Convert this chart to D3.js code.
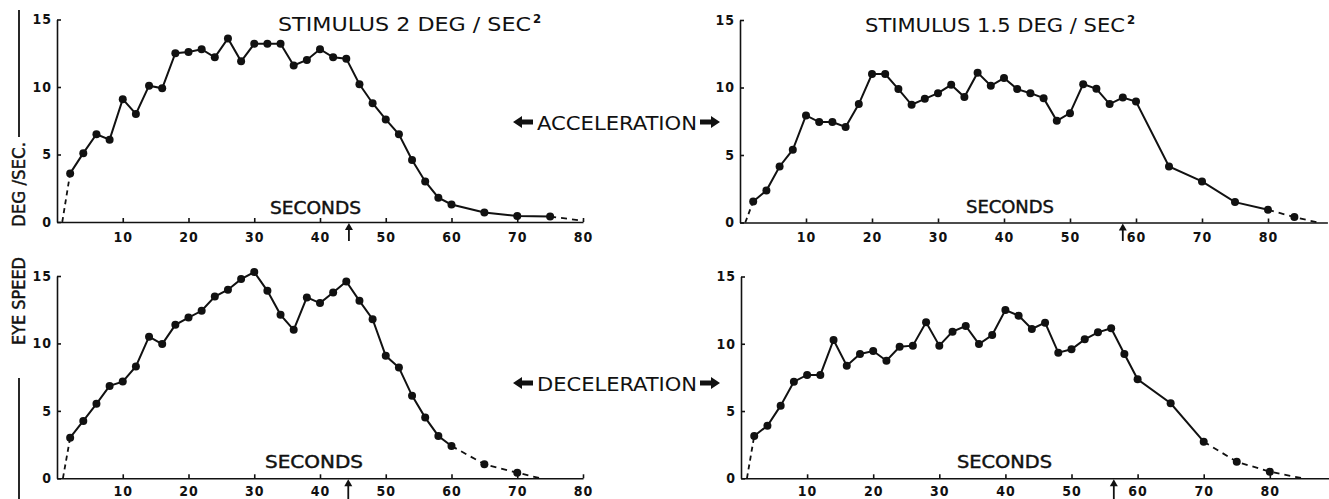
<!DOCTYPE html>
<html>
<head>
<meta charset="utf-8">
<script src="https://cdn.jsdelivr.net/npm/d3@7"></script>
<style>
  body { margin: 0; background: #fff; }
  text { font-family: "DejaVu Sans Condensed", "Liberation Sans Narrow", "DejaVu Sans", sans-serif; fill: #111; }
</style>
</head>
<body>
<div id="chart"></div>
<script>
// eye speed (deg/sec), one point every 2 s then every 5 s
let accel2Sec = [2,4,6,8,10,12,14,16,18,20,22,24,26,28,30,32,34,36,38,40,42,44,46,48,50,52,54,56,58,60,65,70,75];
let accel2Speed = [3.6,5.1,6.5,6.1,9.1,8.0,10.1,9.9,12.5,12.6,12.8,12.2,13.6,11.9,13.2,13.2,13.2,11.6,12.0,12.8,12.2,12.1,10.2,8.8,7.6,6.5,4.6,3.0,1.8,1.3,0.7,0.45,0.4];

let accel15Sec = [2,4,6,8,10,12,14,16,18,20,22,24,26,28,30,32,34,36,38,40,42,44,46,48,50,52,54,56,58,60,65,70,75,80,84];
let accel15Speed = [1.56,2.37,4.15,5.39,7.93,7.44,7.44,7.07,8.77,11.0,11.0,9.88,8.72,9.16,9.58,10.2,9.29,11.1,10.13,10.7,9.88,9.58,9.21,7.53,8.1,10.25,9.9,8.77,9.26,8.96,4.15,3.04,1.51,0.94,0.4];

let decel2Sec = [2,4,6,8,10,12,14,16,18,20,22,24,26,28,30,32,34,36,38,40,42,44,46,48,50,52,54,56,58,60,65,70];
let decel2Speed = [3.01,4.25,5.52,6.85,7.17,8.29,10.5,9.95,11.38,11.92,12.42,13.48,13.98,14.77,15.29,13.9,12.12,11.01,13.41,12.99,13.78,14.6,13.16,11.8,9.08,8.21,6.13,4.5,3.14,2.4,1.04,0.42];

let decel15Sec = [2,4,6,8,10,12,14,16,18,20,22,24,26,28,30,32,34,36,38,40,42,44,46,48,50,52,54,56,58,60,65,70,75,80];
let decel15Speed = [3.15,3.91,5.4,7.18,7.68,7.68,10.28,8.37,9.24,9.46,8.74,9.78,9.86,11.6,9.86,10.9,11.32,9.98,10.65,12.51,12.09,11.1,11.57,9.34,9.59,10.33,10.85,11.15,9.24,7.36,5.58,2.72,1.23,0.49];

// dashed extrapolation to the axis at each end, last second of solid line, stimulus end (arrow)
let leadIn = [[0.8, 0], [0.8, 0], [0.9, 0], [0.9, 0]];
let tailOut = [[80, 0.1], [87.5, 0], [73.5, 0], [85, 0]];
let solidUntil = [75, 80, 60, 70];
let stimulusEnd = [44.4, 58, 44.3, 56.4];

let xTicks = [10, 20, 30, 40, 50, 60, 70, 80];
let yTicks = [0, 5, 10, 15];

let titles = ["STIMULUS  2  DEG / SEC", "STIMULUS  1.5  DEG / SEC"];

let svg = d3.select("#chart")
    .append("svg")
    .attr("width", 1329)
    .attr("height", 499);

let panels = [
    {sec: accel2Sec, speed: accel2Speed, xMax: 80, x0: 57, x1: 583, y0: 222, y1: 19.5, bottom: 241},
    {sec: accel15Sec, speed: accel15Speed, xMax: 89, x0: 740, x1: 1327.4, y0: 222.5, y1: 20, bottom: 241},
    {sec: decel2Sec, speed: decel2Speed, xMax: 80, x0: 57, x1: 583, y0: 478.3, y1: 276, bottom: 499},
    {sec: decel15Sec, speed: decel15Speed, xMax: 89, x0: 741, x1: 1329.3, y0: 478.3, y1: 276.5, bottom: 499}
];

panels.forEach(function(p, i) {
    let x = d3.scaleLinear().domain([0, p.xMax]).range([p.x0, p.x1]);
    let y = d3.scaleLinear().domain([0, 15]).range([p.y0, p.y1]);
    let g = svg.append("g");

    let xAxis = g.append("g")
        .attr("transform", "translate(0," + p.y0 + ")")
        .call(d3.axisBottom(x).tickValues(xTicks).tickSize(-4).tickSizeOuter(0).tickPadding(i < 2 ? 10 : 8));
    let yAxis = g.append("g")
        .attr("transform", "translate(" + p.x0 + ",0)")
        .call(d3.axisLeft(y).tickValues(yTicks).tickSize(-4).tickSizeOuter(0).tickPadding(5));
    [xAxis, yAxis].forEach(function(a) {
        a.select(".domain").attr("stroke", "#111").attr("stroke-width", 1.6);
        a.selectAll(".tick line").attr("stroke", "#111").attr("stroke-width", 1.6);
        a.selectAll(".tick text")
            .attr("fill", "#111")
            .style("font-size", "14px")
            .style("font-weight", "bold")
            .style("letter-spacing", "1px")
            .style("font-family", "\"DejaVu Sans Condensed\", \"DejaVu Sans\", sans-serif");
    });

    let pts = p.sec.map((s, k) => [s, p.speed[k]]);
    let solid = pts.filter(d => d[0] <= solidUntil[i]);
    let tail = [solid[solid.length - 1]].concat(pts.filter(d => d[0] > solidUntil[i]), [tailOut[i]]);
    let line = d3.line().x(d => x(d[0])).y(d => y(d[1]));

    g.append("path").datum([leadIn[i], pts[0]])
        .attr("fill", "none").attr("stroke", "#111").attr("stroke-width", 1.8)
        .attr("stroke-dasharray", "5,4").attr("d", line);
    g.append("path").datum(solid)
        .attr("fill", "none").attr("stroke", "#111").attr("stroke-width", 2)
        .attr("d", line);
    g.append("path").datum(tail)
        .attr("fill", "none").attr("stroke", "#111").attr("stroke-width", 1.8)
        .attr("stroke-dasharray", "6,5").attr("d", line);

    g.append("g")
        .selectAll("circle")
        .data(pts)
        .join("circle")
        .attr("cx", d => x(d[0]))
        .attr("cy", d => y(d[1]))
        .attr("r", 4)
        .attr("fill", "#111");

    // stimulus-off arrow under the axis
    let ax = x(stimulusEnd[i]);
    g.append("line")
        .attr("x1", ax).attr("x2", ax)
        .attr("y1", p.y0 + 4).attr("y2", p.bottom)
        .attr("stroke", "#111").attr("stroke-width", 1.8);
    g.append("path")
        .attr("d", "M" + ax + "," + (p.y0 + 1) + " l-4,7 l8,0 z")
        .attr("fill", "#111");
});

// panel texts
let secondsLabels = [[270, 214, 91], [966, 213, 88], [265, 468, 98], [957, 468, 95]];
secondsLabels.forEach(function(s) {
    svg.append("text")
        .attr("x", s[0]).attr("y", s[1])
        .attr("textLength", s[2]).attr("lengthAdjust", "spacingAndGlyphs")
        .style("font-size", "17px")
        .style("stroke", "#111").style("stroke-width", 0.4)
        .text("SECONDS");
});

let titlePos = [[278, 31, 253, 533], [865, 32, 260, 1127]];
titles.forEach(function(t, i) {
    svg.append("text")
        .attr("x", titlePos[i][0]).attr("y", titlePos[i][1])
        .attr("textLength", titlePos[i][2]).attr("lengthAdjust", "spacingAndGlyphs")
        .style("font-size", "20px")
        .text(t);
    svg.append("text")
        .attr("x", titlePos[i][3]).attr("y", titlePos[i][1] - 8)
        .style("font-size", "13px")
        .style("font-weight", "bold")
        .text("2");
});

// middle labels with thick arrows
[["ACCELERATION", 130, 122], ["DECELERATION", 391, 383]].forEach(function(m) {
    svg.append("text")
        .attr("x", 537).attr("y", m[1])
        .attr("textLength", 160).attr("lengthAdjust", "spacingAndGlyphs")
        .style("font-size", "20px")
        .text(m[0]);
    let cy = m[2];
    svg.append("path")
        .attr("d", "M513," + cy + " l9,-6 l0,3.5 l11,0 l0,5 l-11,0 l0,3.5 z")
        .attr("fill", "#111");
    svg.append("path")
        .attr("d", "M720," + cy + " l-9,-6 l0,3.5 l-11,0 l0,5 l11,0 l0,3.5 z")
        .attr("fill", "#111");
});

// shared y label on the left
svg.append("line").attr("x1", 19).attr("x2", 19).attr("y1", 10).attr("y2", 137)
    .attr("stroke", "#111").attr("stroke-width", 1.8);
svg.append("line").attr("x1", 19).attr("x2", 19).attr("y1", 378).attr("y2", 499)
    .attr("stroke", "#111").attr("stroke-width", 1.8);
svg.append("text")
    .attr("transform", "translate(25,227) rotate(-90)")
    .attr("textLength", 85).attr("lengthAdjust", "spacingAndGlyphs")
    .style("font-size", "17px")
    .style("stroke", "#111").style("stroke-width", 0.4)
    .text("DEG /SEC.");
svg.append("text")
    .attr("transform", "translate(25,345) rotate(-90)")
    .attr("textLength", 88).attr("lengthAdjust", "spacingAndGlyphs")
    .style("font-size", "17px")
    .style("stroke", "#111").style("stroke-width", 0.4)
    .text("EYE  SPEED");
</script>
</body>
</html>
